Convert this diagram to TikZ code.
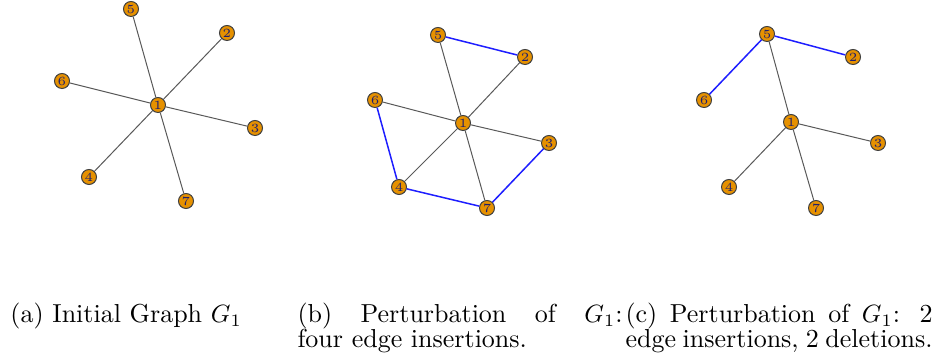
\documentclass[tikz,border=0pt]{standalone}
\usepackage{amsmath, amssymb}
\usepackage{tikz}
\usetikzlibrary{positioning}

\definecolor{vorange}{RGB}{230,145,0}
\definecolor{vlabel}{RGB}{30,30,110}
\definecolor{eblue}{RGB}{30,30,255}

\begin{document}
\begin{tikzpicture}[x=0.4pt, y=-0.4pt,
  vtx/.style={circle, draw=black!75, fill=vorange, minimum size=6pt, inner sep=0pt,
    text=vlabel, font=\fontsize{5}{6}\selectfont},
  edg/.style={draw=black!65, line width=0.4pt},
  ins/.style={draw=eblue, line width=0.6pt},
  subcap/.style={anchor=base west, inner sep=0pt, font=\fontsize{10.4}{12.5}\selectfont}]
\useasboundingbox (0,0) rectangle (937,364);
% (a) initial graph
\node[vtx] (a5) at (131,9) {5};
\node[vtx] (a2) at (227,33) {2};
\node[vtx] (a6) at (62,81) {6};
\node[vtx] (a1) at (158,105) {1};
\node[vtx] (a3) at (255,128) {3};
\node[vtx] (a4) at (89,177) {4};
\node[vtx] (a7) at (186,201) {7};
\draw[edg] (a1) -- (a5);
\draw[edg] (a1) -- (a2);
\draw[edg] (a1) -- (a6);
\draw[edg] (a1) -- (a3);
\draw[edg] (a1) -- (a4);
\draw[edg] (a1) -- (a7);
% (b) four insertions
\node[vtx] (b5) at (438,35) {5};
\node[vtx] (b2) at (525,57) {2};
\node[vtx] (b6) at (375,100) {6};
\node[vtx] (b1) at (463,123) {1};
\node[vtx] (b3) at (549,143) {3};
\node[vtx] (b4) at (399,187) {4};
\node[vtx] (b7) at (487,208) {7};
\draw[edg] (b1) -- (b5);
\draw[edg] (b1) -- (b2);
\draw[edg] (b1) -- (b6);
\draw[edg] (b1) -- (b3);
\draw[edg] (b1) -- (b4);
\draw[edg] (b1) -- (b7);
\draw[ins] (b5) -- (b2);
\draw[ins] (b6) -- (b4);
\draw[ins] (b4) -- (b7);
\draw[ins] (b7) -- (b3);
% (c) two insertions, two deletions
\node[vtx] (c5) at (767,34) {5};
\node[vtx] (c2) at (853,57) {2};
\node[vtx] (c6) at (704,100) {6};
\node[vtx] (c1) at (791,122) {1};
\node[vtx] (c3) at (878,143) {3};
\node[vtx] (c4) at (729,187) {4};
\node[vtx] (c7) at (816,208) {7};
\draw[edg] (c5) -- (c1);
\draw[edg] (c1) -- (c3);
\draw[edg] (c1) -- (c4);
\draw[edg] (c1) -- (c7);
\draw[ins] (c5) -- (c6);
\draw[ins] (c5) -- (c2);
% captions
\node[subcap] (capa) at (10,323) {(a) Initial Graph $G_1$};
\node[subcap] (capb1) at (297,323) {\makebox[130pt][s]{(b) Perturbation of $G_1$:}};
\node[subcap] (capb2) at (297,348) {four edge insertions.};
\node[subcap] (capc1) at (625,323) {\makebox[122.8pt][s]{(c) Perturbation of $G_1$: 2}};
\node[subcap] (capc2) at (625,348) {\makebox[122.8pt][s]{edge insertions, 2 deletions.}};
\end{tikzpicture}
\end{document}
